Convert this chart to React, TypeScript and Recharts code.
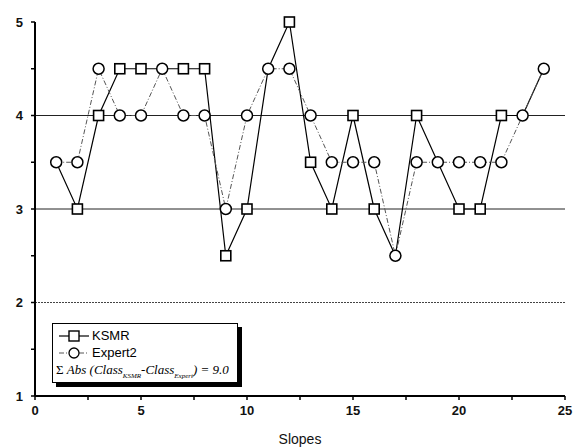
import { LineChart, Line, XAxis, YAxis, ReferenceLine } from 'recharts';

const slopes = [1, 2, 3, 4, 5, 6, 7, 8, 9, 10, 11, 12, 13, 14, 15, 16, 17, 18, 19, 20, 21, 22, 23, 24];
const ksmr = [3.5, 3, 4, 4.5, 4.5, 4.5, 4.5, 4.5, 2.5, 3, 4.5, 5, 3.5, 3, 4, 3, 2.5, 4, 3.5, 3, 3, 4, 4, 4.5];
const expert2 = [3.5, 3.5, 4.5, 4, 4, 4.5, 4, 4, 3, 4, 4.5, 4.5, 4, 3.5, 3.5, 3.5, 2.5, 3.5, 3.5, 3.5, 3.5, 3.5, 4, 4.5];
const xTicks = [0, 2.5, 5, 7.5, 10, 12.5, 15, 17.5, 20, 22.5, 25];
const yTicks = [1, 1.5, 2, 2.5, 3, 3.5, 4, 4.5, 5];
const gridValues = [2, 3, 4];

const data = slopes.map((s, i) => ({ slope: s, KSMR: ksmr[i], Expert2: expert2[i] }));

const tickStyle = { fontSize: 13, fontWeight: 600, fill: '#111', fontFamily: 'Liberation Sans, Arial, sans-serif' };

// square marker for KSMR (hidden behind the circle where both series agree)
const SquareDot = (props: any) => {
  const { cx, cy, index, payload } = props;
  if (cx == null || cy == null) return null;
  if (payload && payload.KSMR === payload.Expert2) return <g key={`sq-${index}`} />;
  return <rect key={`sq-${index}`} x={cx - 5} y={cy - 5} width={10} height={10} fill="#fff" stroke="#000" strokeWidth={1.6} />;
};

const CircleDot = (props: any) => {
  const { cx, cy, index } = props;
  if (cx == null || cy == null) return null;
  return <circle key={`ci-${index}`} cx={cx} cy={cy} r={5.5} fill="#fff" stroke="#000" strokeWidth={1.5} />;
};

const intOnly = (v: number) => (Number.isInteger(v) ? String(v) : '');
const every5 = (v: number) => (v % 5 === 0 ? String(v) : '');

const LegendBox = () => (
  <div
    style={{
      position: 'absolute',
      left: 52,
      top: 323,
      width: 186,
      height: 60,
      background: '#fff',
      border: '1px solid #000',
      boxShadow: '4px 4px 0 #000',
      fontFamily: 'Liberation Sans, Arial, sans-serif',
      fontSize: 13,
      color: '#000',
      padding: '3px 0 0 6px',
      boxSizing: 'border-box',
      lineHeight: '17px',
    }}
  >
    <div style={{ display: 'flex', alignItems: 'center' }}>
      <svg width={30} height={14}>
        <line x1={0} y1={7} x2={30} y2={7} stroke="#000" strokeWidth={1.2} />
        <rect x={10} y={2} width={10} height={10} fill="#fff" stroke="#000" strokeWidth={1.4} />
      </svg>
      <span style={{ marginLeft: 3 }}>KSMR</span>
    </div>
    <div style={{ display: 'flex', alignItems: 'center' }}>
      <svg width={30} height={14}>
        <line x1={0} y1={7} x2={30} y2={7} stroke="#555" strokeWidth={1} strokeDasharray="5 2 1 2" />
        <circle cx={15} cy={7} r={5} fill="#fff" stroke="#000" strokeWidth={1.3} />
      </svg>
      <span style={{ marginLeft: 3 }}>Expert2</span>
    </div>
    <div style={{ fontFamily: 'Liberation Serif, Times New Roman, serif', fontStyle: 'italic', fontSize: 13, whiteSpace: 'nowrap', marginLeft: -3 }}>
      <span style={{ fontStyle: 'normal' }}>Σ</span> Abs (Class<sub style={{ fontSize: 7 }}>KSMR</sub>-Class<sub style={{ fontSize: 7 }}>Expert</sub>) = 9.0
    </div>
  </div>
);

export default function App() {
  return (
    <div style={{ position: 'absolute', left: 0, top: 0, width: 576, height: 448, background: '#fff' }}>
      <LineChart width={576} height={448} data={data} margin={{ top: 22, right: 11, left: 10, bottom: 0 }}>
        <XAxis
          xAxisId="bottom"
          dataKey="slope"
          type="number"
          domain={[0, 25]}
          ticks={xTicks}
          tickFormatter={every5}
          tick={tickStyle}
          tickSize={4}
          tickMargin={6}
          height={52}
          axisLine={{ stroke: '#000', strokeWidth: 2 }}
          tickLine={{ stroke: '#000', strokeWidth: 1.5 }}
          label={{ value: 'Slopes', position: 'insideBottom', offset: 4, style: { fontSize: 14, fill: '#111', fontFamily: 'Liberation Sans, Arial, sans-serif' } }}
        />
        <XAxis
          xAxisId="top"
          orientation="top"
          dataKey="slope"
          type="number"
          domain={[0, 25]}
          ticks={xTicks}
          tick={false}
          mirror
          tickSize={4}
          height={0}
          axisLine={{ stroke: '#000', strokeWidth: 1.5 }}
          tickLine={{ stroke: '#000', strokeWidth: 1.5 }}
        />
        <YAxis
          yAxisId="left"
          type="number"
          domain={[1, 5]}
          ticks={yTicks}
          tickFormatter={intOnly}
          tick={tickStyle}
          tickSize={4}
          tickMargin={8}
          width={25}
          axisLine={{ stroke: '#000', strokeWidth: 2 }}
          tickLine={{ stroke: '#000', strokeWidth: 1.5 }}
        />
        <YAxis
          yAxisId="right"
          orientation="right"
          type="number"
          domain={[1, 5]}
          ticks={yTicks}
          tick={false}
          mirror
          tickSize={4}
          width={0}
          axisLine={{ stroke: '#000', strokeWidth: 1.5 }}
          tickLine={{ stroke: '#000', strokeWidth: 1.5 }}
        />
        {gridValues.map((g) => (
          <ReferenceLine
            key={g}
            y={g}
            xAxisId="bottom"
            yAxisId="left"
            stroke={g === 2 ? '#444' : '#222'}
            strokeWidth={1}
            strokeDasharray={g === 2 ? '2 1' : undefined}
          />
        ))}
        <Line
          xAxisId="bottom"
          yAxisId="left"
          dataKey="KSMR"
          stroke="#000"
          strokeWidth={1.2}
          dot={SquareDot}
          isAnimationActive={false}
        />
        <Line
          xAxisId="bottom"
          yAxisId="left"
          dataKey="Expert2"
          stroke="#555"
          strokeWidth={1}
          strokeDasharray="5 2 1 2"
          dot={CircleDot}
          isAnimationActive={false}
        />
      </LineChart>
      <LegendBox />
    </div>
  );
}
